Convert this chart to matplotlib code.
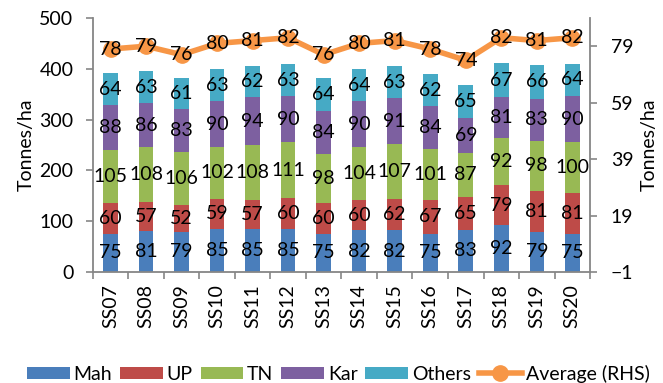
import numpy as np
import matplotlib.pyplot as plt
from matplotlib.lines import Line2D

plt.rcParams['font.family'] = ['Lato', 'DejaVu Sans']

seasons = ['SS07', 'SS08', 'SS09', 'SS10', 'SS11', 'SS12', 'SS13',
           'SS14', 'SS15', 'SS16', 'SS17', 'SS18', 'SS19', 'SS20']
mah = [75, 81, 79, 85, 85, 85, 75, 82, 82, 75, 83, 92, 79, 75]
up = [60, 57, 52, 59, 57, 60, 60, 60, 62, 67, 65, 79, 81, 81]
tn = [105, 108, 106, 102, 108, 111, 98, 104, 107, 101, 87, 92, 98, 100]
kar = [88, 86, 83, 90, 94, 90, 84, 90, 91, 84, 69, 81, 83, 90]
others = [64, 63, 61, 63, 62, 63, 64, 64, 63, 62, 65, 67, 66, 64]
average = [78, 79, 76, 80, 81, 82, 76, 80, 81, 78, 74, 82, 81, 82]

series = [('Mah', mah, '#4A7EBB'), ('UP', up, '#BE4B48'), ('TN', tn, '#98B954'),
          ('Kar', kar, '#7D60A0'), ('Others', others, '#46AAC5')]

fs = 14
fig, ax = plt.subplots(figsize=(6.63, 3.83), dpi=100)
fig.subplots_adjust(left=0.14, right=0.89, top=0.953, bottom=0.29)

x = np.arange(len(seasons))
bottom = np.zeros(len(seasons))
handles = []
for name, vals, color in series:
    vals = np.array(vals)
    bars = ax.bar(x, vals, 0.41, bottom=bottom, color=color, label=name)
    for xi, b, v in zip(x, bottom, vals):
        ax.text(xi, b + v / 2, str(v), ha='center', va='center', fontsize=fs)
    bottom += vals
    handles.append(bars)

ax.set_ylim(0, 500)
ax.set_yticks(range(0, 501, 100))
ax.set_xlim(-0.5, len(seasons) - 0.5)
ax.set_xticks(x)
ax.set_xticklabels(seasons, rotation=90, fontsize=fs)
ax.tick_params(axis='x', length=0, pad=9)
ax.set_xticks(np.arange(-0.5, len(seasons)), minor=True)
ax.tick_params(axis='x', which='minor', length=5, color='#868686', width=1.2)
ax.tick_params(axis='y', labelsize=fs, color='#868686', length=5, width=1.2, pad=9)
ax.set_ylabel('Tonnes/ha', fontsize=fs, labelpad=3)
for s in ['left', 'bottom']:
    ax.spines[s].set_color('#868686')
    ax.spines[s].set_linewidth(1.3)
ax.spines['top'].set_visible(False)
ax.spines['right'].set_visible(False)

# average yield on the right-hand axis
ax2 = ax.twinx()
ax2.plot(x, average, color='#F79646', lw=4, marker='o', ms=11)
for xi, v in zip(x, average):
    ax2.text(xi, v, str(v), ha='center', va='center', fontsize=fs)
ax2.set_ylim(-1, 89)
ax2.set_yticks(range(-1, 80, 20))
ax2.tick_params(axis='y', labelsize=fs, color='#868686', length=5, width=1.2, pad=10)
ax2.set_ylabel('Tonnes/ha', fontsize=fs, labelpad=5)
ax2.spines['right'].set_color('#868686')
ax2.spines['right'].set_linewidth(1.3)
for s in ['top', 'left', 'bottom']:
    ax2.spines[s].set_visible(False)

line_handle = Line2D([], [], color='#F79646', lw=4, marker='o', ms=11)
fig.legend(handles + [line_handle], [s[0] for s in series] + ['Average (RHS)'],
           loc='lower center', ncol=6, frameon=False, fontsize=fs,
           bbox_to_anchor=(0.51, -0.045), handlelength=2.2, handleheight=0.6,
           columnspacing=0.4, handletextpad=0.2)

fig.savefig('out.png')
